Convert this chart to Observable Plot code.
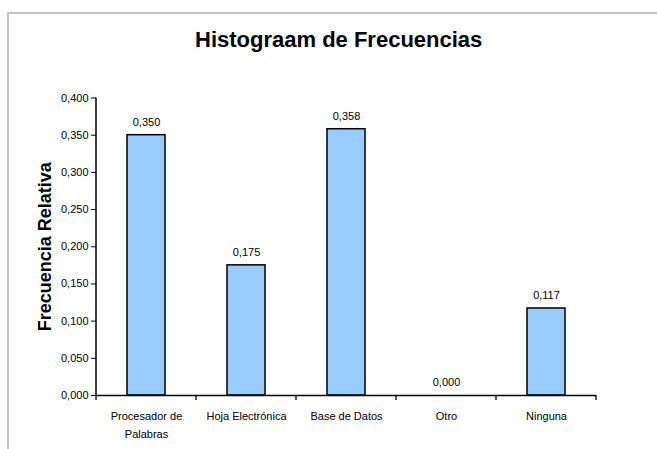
<!DOCTYPE html>
<html>
<head>
<meta charset="utf-8">
<script src="https://cdn.jsdelivr.net/npm/d3@7"></script>
<script src="https://cdn.jsdelivr.net/npm/@observablehq/plot@0.6"></script>
<style>
  html, body { margin: 0; padding: 0; background: #fff; }
  body { width: 657px; height: 449px; position: relative; overflow: hidden; font-family: "Liberation Sans", Arial, sans-serif; }
  #frame { position: absolute; left: 7px; top: 12px; width: 700px; height: 500px; border-left: 2px solid #c4c4c4; border-top: 2px solid #c4c4c4; }
  #title { position: absolute; left: 195px; top: 27px; white-space: nowrap; font-size: 22px; font-weight: bold; color: #000; line-height: 25px; }
  #chart { position: absolute; left: 0; top: 0; }
  #chart svg { overflow: visible; }
</style>
</head>
<body>
<div id="frame"></div>
<div id="chart"></div>
<div id="title">Histograam de Frecuencias</div>
<script>
const categories = ["Procesador de\nPalabras", "Hoja Electrónica", "Base de Datos", "Otro", "Ninguna"];
const values = [0.350, 0.175, 0.358, 0.000, 0.117];
const yTicks = [0, 0.05, 0.1, 0.15, 0.2, 0.25, 0.3, 0.35, 0.4];
const yLabel = "Frecuencia Relativa";

const data = categories.map((c, i) => ({cat: c, val: values[i]}));
const fmt = d => d.toFixed(3).replace(".", ",");

const chart = Plot.plot({
  width: 657,
  height: 449,
  marginLeft: 96,
  marginRight: 61,
  marginTop: 97.5,
  marginBottom: 54,
  style: {fontFamily: "'Liberation Sans', Arial, sans-serif", fontSize: "11px", color: "#000", background: "transparent"},
  x: {domain: categories, paddingInner: 0.62, paddingOuter: 0.31, label: null},
  y: {domain: [0, 0.4], label: null},
  marks: [
    Plot.axisY({ticks: yTicks, tickFormat: fmt, tickSize: 5, tickPadding: 3, tickStrokeWidth: 1.3, label: yLabel, labelAnchor: "center", labelArrow: "none", labelOffset: 58, fontSize: 11}),
    Plot.axisX({tickSize: 0, tickPadding: 12, lineHeight: 1.6, fontSize: 11}),
    Plot.barY(data, {x: "cat", y: "val", fill: "#99CCFF", stroke: "#000", strokeWidth: 1.5}),
    Plot.ruleY([0], {stroke: "#000", strokeWidth: 1.5}),
    Plot.text(data, {x: "cat", y: "val", text: d => fmt(d.val), dy: -13, fontSize: 11})
  ]
});

// y-axis line and category boundary ticks, placed with Plot's own x and y scales
const sx = chart.scale("x");
const sy = chart.scale("y");
const svg = d3.select(chart);
const y0 = sy.apply(0);
const yTop = sy.apply(0.4);
const bw = sx.bandwidth, st = sx.step;
const leftEdge = sx.apply(categories[0]) - (st - bw) / 2;
svg.append("line").attr("x1", leftEdge).attr("x2", leftEdge).attr("y1", yTop).attr("y2", y0)
  .attr("stroke", "#000").attr("stroke-width", 1.5);
categories.forEach((c, i) => {
  const xb = sx.apply(c) - (st - bw) / 2;
  svg.append("line").attr("x1", xb).attr("x2", xb).attr("y1", y0).attr("y2", y0 + 5).attr("stroke", "#000").attr("stroke-width", 1.3);
  if (i === categories.length - 1) {
    const xe = xb + st;
    svg.append("line").attr("x1", xe).attr("x2", xe).attr("y1", y0).attr("y2", y0 + 5).attr("stroke", "#000").attr("stroke-width", 1.3);
  }
});
svg.selectAll("[aria-label='y-axis label'] text").style("font-size", "18px").style("font-weight", "bold");
document.getElementById("chart").appendChild(chart);
</script>
</body>
</html>
